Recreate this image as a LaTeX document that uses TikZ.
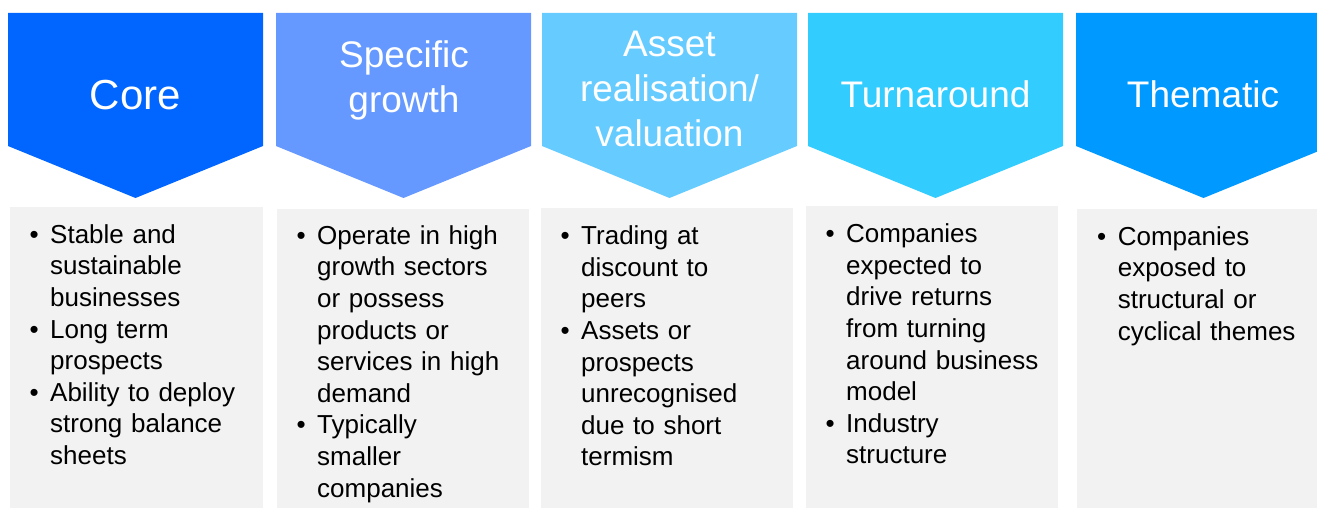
\documentclass[tikz,border=0pt]{standalone}
\usepackage{fontspec}
\setmainfont{Liberation Sans}
\definecolor{coreblue}{RGB}{0,102,255}
\definecolor{growthblue}{RGB}{102,153,255}
\definecolor{assetblue}{RGB}{102,204,255}
\definecolor{turnblue}{RGB}{51,204,255}
\definecolor{themeblue}{RGB}{0,153,255}
\definecolor{panelgrey}{RGB}{242,242,242}
\setlength{\parskip}{0pt}
\newcommand{\itm}[1]{\noindent\hangindent=20.6pt\hangafter=1\makebox[20.6pt][l]{\rule{0pt}{20pt}\textbullet}#1\par}

\begin{document}
\begin{tikzpicture}[x=1pt, y=-1pt,
    head/.style={text=white, align=center, anchor=north, inner sep=0, font=\fontsize{37}{45}\selectfont},
    body/.style={text=black, anchor=north west, inner sep=0, text width=236pt, font=\fontsize{26}{31.6}\selectfont}]
\clip (0,0) rectangle (1317,508);

\fill[coreblue] (8,13) -- (263,13) -- (263,146) -- (135.5,198) -- (8,146) -- cycle;
\fill[growthblue] (276,13) -- (531,13) -- (531,146) -- (403.5,198) -- (276,146) -- cycle;
\fill[assetblue] (542,13) -- (797,13) -- (797,146) -- (669.5,198) -- (542,146) -- cycle;
\fill[turnblue] (808,13) -- (1063,13) -- (1063,146) -- (935.5,198) -- (808,146) -- cycle;
\fill[themeblue] (1076,13) -- (1331,13) -- (1331,146) -- (1203.5,198) -- (1076,146) -- cycle;

\fill[panelgrey] (10,207) rectangle (263,508);
\fill[panelgrey] (277,209) rectangle (529,508);
\fill[panelgrey] (541,208) rectangle (793,508);
\fill[panelgrey] (806,206) rectangle (1058,508);
\fill[panelgrey] (1077,209) rectangle (1317,508);

\node[head, font=\fontsize{42}{50}\selectfont] (core) at (135.5, 79) {\rule{0pt}{30pt}Core};
\node[head] (growth) at (404, 37) {\rule{0pt}{30pt}Specific\\growth};
\node[head] (asset) at (669.5, 26) {\rule{0pt}{30pt}Asset\\realisation/\\valuation};
\node[head] (turnaround) at (935.5, 77) {\rule{0pt}{30pt}Turnaround};
\node[head] (thematic) at (1203, 77) {\rule{0pt}{30pt}Thematic};

\node[body] (coretext) at (29.4, 223) {%
    \itm{Stable and\newline sustainable\newline businesses}%
    \itm{Long term\newline prospects}%
    \itm{Ability to deploy\newline strong balance\newline sheets}};
\node[body] (growthtext) at (296.4, 224) {%
    \itm{Operate in high\newline growth sectors\newline or possess\newline products or\newline services in high\newline demand}%
    \itm{Typically\newline smaller\newline companies}};
\node[body] (assettext) at (560.4, 224.5) {%
    \itm{Trading at\newline discount to\newline peers}%
    \itm{Assets or\newline prospects\newline unrecognised\newline due to short\newline termism}};
\node[body] (turntext) at (825.4, 222.5) {%
    \itm{Companies\newline expected to\newline drive returns\newline from turning\newline around business\newline model}%
    \itm{Industry\newline structure}};
\node[body] (themetext) at (1097, 225) {%
    \itm{Companies\newline exposed to\newline structural or\newline cyclical themes}};

\end{tikzpicture}
\end{document}
